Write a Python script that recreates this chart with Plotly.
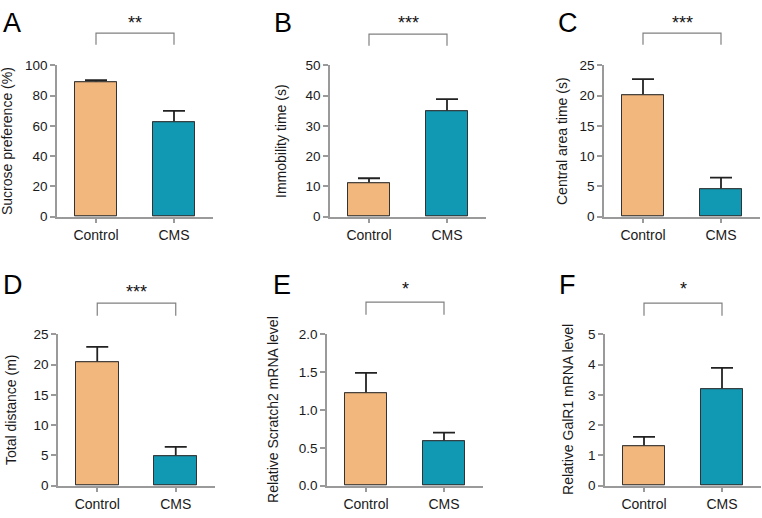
import plotly.graph_objects as go

# ---------------- data ----------------
categories = ["Control", "CMS"]
panel_letters = ["A", "B", "C", "D", "E", "F"]
y_titles = ["Sucrose preference (%)", "Immobility time (s)", "Central area time (s)",
            "Total distance (m)", "Relative Scratch2 mRNA level", "Relative GalR1 mRNA level"]
sig_labels = ["**", "***", "***", "***", "*", "*"]

sucrose_pref = [88.9, 62.5]
sucrose_err = [1.3, 7.4]
immobility = [11.0, 34.7]
immobility_err = [1.7, 4.1]
central_time = [20.0, 4.6]
central_err = [2.7, 1.85]
total_distance = [20.4, 4.85]
distance_err = [2.5, 1.55]
scratch2 = [1.22, 0.59]
scratch2_err = [0.27, 0.11]
galr1 = [1.30, 3.17]
galr1_err = [0.31, 0.72]

y_max = [100, 50, 25, 25, 2.0, 5]
y_dtick = [20, 10, 5, 5, 0.5, 1]

values = [sucrose_pref, immobility, central_time, total_distance, scratch2, galr1]
errors = [sucrose_err, immobility_err, central_err, distance_err, scratch2_err, galr1_err]

# ---------------- layout geometry (pixels) ----------------
W, H = 762, 518
x_px = [(57, 213), (330, 486), (604, 760), (58, 215), (327, 483), (605, 761)]
y_px = [(60, 216)] * 3 + [(337, 493)] * 3
title_x_px = [7, 281, 562, 11, 273, 568]
letter_pos = [(12, 16), (283, 16), (568, 16), (13, 286), (282, 286), (567, 286)]
star_y_px = [13, 13, 13, 290, 287, 287]
bracket_y_px = [(27, 39), (28, 40), (27, 39), (305, 318), (304, 317), (305, 318)]

ORANGE = "#F2B77D"
TEAL = "#1198B3"
AXIS_GRAY = "#9a9a9a"
FONT = "Liberation Sans, Arial, sans-serif"

def px_x(p):
    return p / W

def px_y(p):
    return 1 - p / H

fig = go.Figure()
layout = dict(
    width=W, height=H, margin=dict(l=0, r=0, t=0, b=0),
    paper_bgcolor="white", plot_bgcolor="white", showlegend=False,
    font=dict(family=FONT, size=14, color="#1a1a1a"),
    bargap=0, barmode="overlay",
)
shapes = []
annotations = []

for i in range(6):
    n = "" if i == 0 else str(i + 1)
    xa, ya = "x" + n, "y" + n
    bar_marker = dict(color=[ORANGE, TEAL], line=dict(color="#333333", width=1))
    # error whiskers; their lower part (and lower cap) is hidden under the bars drawn next
    fig.add_trace(go.Bar(
        x=categories, y=values[i], width=0.55, marker=bar_marker,
        error_y=dict(type="data", symmetric=False, array=errors[i],
                     arrayminus=[v / 2 for v in values[i]],
                     color="#222222", thickness=1.8, width=11),
        xaxis=xa, yaxis=ya, hoverinfo="skip",
    ))
    # bars on top
    fig.add_trace(go.Bar(
        x=categories, y=values[i], width=0.55, marker=bar_marker,
        xaxis=xa, yaxis=ya, hoverinfo="skip",
    ))
    layout["xaxis" + n] = dict(
        domain=[px_x(x_px[i][0]), px_x(x_px[i][1])], anchor=ya,
        range=[-0.5, 1.5], showline=True, linecolor=AXIS_GRAY, linewidth=1.5,
        ticks="outside", ticklen=5, tickwidth=1.5, tickcolor=AXIS_GRAY,
        showgrid=False, zeroline=False, fixedrange=True,
        tickfont=dict(size=14, color="#1a1a1a"),
    )
    layout["yaxis" + n] = dict(
        domain=[px_y(y_px[i][1]), px_y(y_px[i][0])], anchor=xa,
        range=[0, y_max[i]], dtick=y_dtick[i], tick0=0,
        tickformat=".1f" if i == 4 else "d",
        showline=True, linecolor=AXIS_GRAY, linewidth=1.5,
        ticks="outside", ticklen=5, tickwidth=1.5, tickcolor=AXIS_GRAY,
        showgrid=False, zeroline=False, fixedrange=True,
        tickfont=dict(size=13.5, color="#1a1a1a"),
    )
    # y-axis titles
    annotations.append(dict(
        text=y_titles[i], textangle=-90, xref="paper", yref="paper",
        x=px_x(title_x_px[i]), y=px_y((y_px[i][0] + y_px[i][1]) / 2),
        xanchor="center", yanchor="middle", showarrow=False,
        font=dict(size=14, color="#1a1a1a"),
    ))
    # panel letters
    annotations.append(dict(
        text=panel_letters[i], xref="paper", yref="paper",
        x=px_x(letter_pos[i][0]), y=px_y(letter_pos[i][1]),
        xanchor="center", yanchor="middle", showarrow=False,
        font=dict(size=27, color="#000000"),
    ))
    # significance stars
    annotations.append(dict(
        text=sig_labels[i], xref=xa, yref="paper",
        x=0.5, y=px_y(star_y_px[i] + 3),
        xanchor="center", yanchor="middle", showarrow=False,
        font=dict(size=18, color="#111111"),
    ))
    # bracket
    yt, yb = bracket_y_px[i]
    shapes.append(dict(
        type="path", xref=xa, yref="paper",
        path=f"M 0,{px_y(yb)} L 0,{px_y(yt)} L 1,{px_y(yt)} L 1,{px_y(yb)}",
        line=dict(color="#808080", width=1.2),
    ))

layout["shapes"] = shapes
layout["annotations"] = annotations
fig.update_layout(**layout)
fig.write_html("out.html", config={"displayModeBar": False},
               post_script="document.body.style.margin='0';")
